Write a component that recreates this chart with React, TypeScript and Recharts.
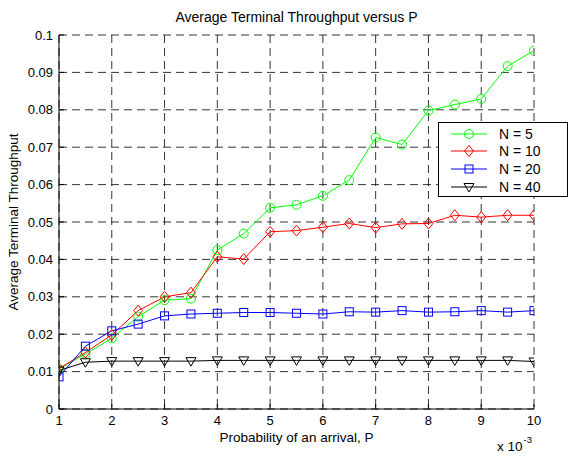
import React from "react"
import { LineChart, Line, XAxis, YAxis, CartesianGrid } from "recharts"

// P values (x 10^-3)
const probabilities = [1, 1.5, 2, 2.5, 3, 3.5, 4, 4.5, 5, 5.5, 6, 6.5, 7, 7.5, 8, 8.5, 9, 9.5, 10]

const throughputN5 = [
  0.0107, 0.0147, 0.0189, 0.0247, 0.0291, 0.0295, 0.0425, 0.0469, 0.0538, 0.0546,
  0.057, 0.0612, 0.0726, 0.0707, 0.0798, 0.0814, 0.0829, 0.0917, 0.0958,
]
const throughputN10 = [
  0.0108, 0.0151, 0.0198, 0.0263, 0.03, 0.0311, 0.0407, 0.0401, 0.0474, 0.0477,
  0.0486, 0.0496, 0.0485, 0.0495, 0.0496, 0.0518, 0.0513, 0.0518, 0.0518,
]
const throughputN20 = [
  0.0086, 0.0168, 0.0209, 0.0227, 0.0249, 0.0254, 0.0256, 0.0258, 0.0258, 0.0256,
  0.0254, 0.026, 0.0259, 0.0263, 0.0259, 0.026, 0.0263, 0.0259, 0.0263,
]
const throughputN40 = [
  0.0103, 0.0125, 0.0128, 0.0128, 0.0128, 0.0128, 0.013, 0.013, 0.013, 0.013,
  0.013, 0.013, 0.013, 0.013, 0.013, 0.013, 0.013, 0.013, 0.0127,
]

const xTicks = [1, 2, 3, 4, 5, 6, 7, 8, 9, 10]
const yTicks = [0, 0.01, 0.02, 0.03, 0.04, 0.05, 0.06, 0.07, 0.08, 0.09, 0.1]

const seriesList = [
  { key: "n5", name: "N = 5", color: "#00ff00", marker: "circle" },
  { key: "n10", name: "N = 10", color: "#ff0000", marker: "diamond" },
  { key: "n20", name: "N = 20", color: "#0000ff", marker: "square" },
  { key: "n40", name: "N = 40", color: "#000000", marker: "triangle" },
]

const data = probabilities.map((p, i) => ({
  p,
  n5: throughputN5[i],
  n10: throughputN10[i],
  n20: throughputN20[i],
  n40: throughputN40[i],
}))

const font = "'Liberation Sans', Arial, sans-serif"

function Marker({ type, cx, cy, color }: { type: string; cx: number; cy: number; color: string }) {
  if (type === "circle") return <circle cx={cx} cy={cy} r={4.5} fill="none" stroke={color} strokeWidth={1} />
  if (type === "diamond")
    return (
      <polygon
        points={`${cx},${cy - 5.5} ${cx + 4.5},${cy} ${cx},${cy + 5.5} ${cx - 4.5},${cy}`}
        fill="none"
        stroke={color}
        strokeWidth={1}
      />
    )
  if (type === "square")
    return <rect x={cx - 4} y={cy - 4} width={8} height={8} fill="none" stroke={color} strokeWidth={1} />
  return (
    <polygon
      points={`${cx - 5},${cy - 3.5} ${cx + 5},${cy - 3.5} ${cx},${cy + 5}`}
      fill="none"
      stroke={color}
      strokeWidth={1}
    />
  )
}

const fmtY = (v: number) => String(Number(v.toFixed(2)))

export default function App() {
  return (
    <div
      style={{
        position: "absolute",
        left: 0,
        top: 0,
        width: 568,
        height: 456,
        background: "#fff",
        fontFamily: font,
      }}
    >
      <LineChart width={568} height={456} data={data} margin={{ top: 35, right: 34, left: 0, bottom: 0 }}>
        <CartesianGrid
          xAxisId="bottom"
          yAxisId="left"
          stroke="#000"
          strokeDasharray="8 5"
          strokeWidth={0.8}
        />
        <XAxis
          xAxisId="bottom"
          dataKey="p"
          type="number"
          domain={[1, 10]}
          ticks={xTicks}
          height={47}
          stroke="#000"
          tickSize={-5}
          tickMargin={12}
          tick={{ fill: "#000", fontSize: 13, fontFamily: font }}
          allowDataOverflow
        />
        <XAxis
          xAxisId="top"
          orientation="top"
          dataKey="p"
          type="number"
          domain={[1, 10]}
          ticks={xTicks}
          height={0}
          stroke="#000"
          tickSize={-5}
          tickFormatter={() => ""}
        />
        <YAxis
          yAxisId="left"
          type="number"
          domain={[0, 0.1]}
          ticks={yTicks}
          width={59}
          stroke="#000"
          tickSize={-5}
          tickMargin={11}
          tickFormatter={fmtY}
          tick={{ fill: "#000", fontSize: 13, fontFamily: font }}
        />
        <YAxis
          yAxisId="right"
          orientation="right"
          type="number"
          domain={[0, 0.1]}
          ticks={yTicks}
          width={0}
          stroke="#000"
          tickSize={-5}
          tickFormatter={() => ""}
        />
        {seriesList.map((s) => (
          <Line
            key={s.key}
            xAxisId="bottom"
            yAxisId="left"
            dataKey={s.key}
            type="linear"
            stroke={s.color}
            strokeWidth={1}
            isAnimationActive={false}
            activeDot={false}
            dot={(props: any) => (
              <Marker key={`${s.key}-${props.index}`} type={s.marker} cx={props.cx} cy={props.cy} color={s.color} />
            )}
          />
        ))}
      </LineChart>

      {/* title */}
      <div
        style={{
          position: "absolute",
          left: 59,
          width: 475,
          top: 9,
          textAlign: "center",
          fontSize: 14,
          lineHeight: "16px",
        }}
      >
        Average Terminal Throughput versus P
      </div>

      {/* y label */}
      <div
        style={{
          position: "absolute",
          left: 14,
          top: 222,
          transform: "translate(-50%, -50%) rotate(-90deg)",
          whiteSpace: "nowrap",
          fontSize: 13.5,
          lineHeight: "16px",
        }}
      >
        Average Terminal Throughput
      </div>

      {/* x label */}
      <div
        style={{
          position: "absolute",
          left: 59,
          width: 475,
          top: 430,
          textAlign: "center",
          fontSize: 13.5,
          lineHeight: "16px",
        }}
      >
        Probability of an arrival, P
      </div>

      {/* exponent */}
      <div style={{ position: "absolute", left: 497, top: 439, fontSize: 13.5, lineHeight: "16px", whiteSpace: "nowrap" }}>
        x 10
        <span style={{ position: "relative", top: -8, fontSize: 9.5, marginLeft: 1 }}>-3</span>
      </div>

      {/* legend */}
      <div
        style={{
          position: "absolute",
          left: 438,
          top: 122,
          width: 128,
          height: 73,
          border: "1px solid #000",
          background: "#fff",
        }}
      >
        {seriesList.map((s, i) => (
          <div
            key={s.key}
            style={{ position: "absolute", left: 0, top: 1.5 + i * 17.8, height: 18, width: 128 }}
          >
            <svg width={50} height={18} style={{ position: "absolute", left: 12, top: 0 }}>
              <line x1={0} y1={9} x2={36} y2={9} stroke={s.color} strokeWidth={1} />
              <Marker type={s.marker} cx={18} cy={9} color={s.color} />
            </svg>
            <span style={{ position: "absolute", left: 60, top: 1, fontSize: 14, lineHeight: "16px" }}>{s.name}</span>
          </div>
        ))}
      </div>
    </div>
  )
}
